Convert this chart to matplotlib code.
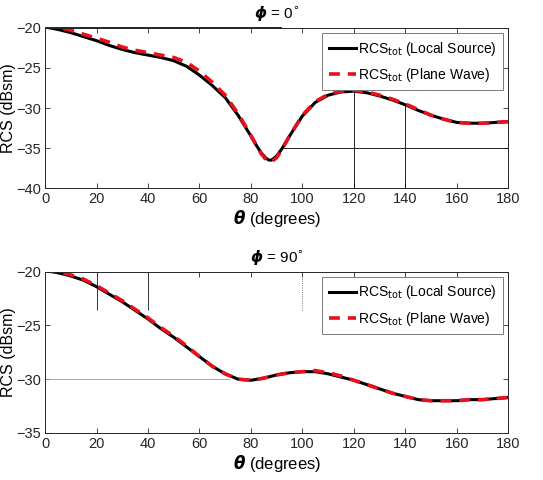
import numpy as np
import matplotlib
matplotlib.use('Agg')
import matplotlib.pyplot as plt

plt.rcParams['font.family'] = 'Liberation Sans'
plt.rcParams['mathtext.fontset'] = 'dejavusans'

# phi = 0 cut
theta0 = [0, 5, 10, 15, 20, 25, 30, 35, 40, 45, 50, 55, 60, 65, 70, 75, 80, 82, 84, 86,
          87, 88, 90, 92, 95, 100, 105, 110, 115, 120, 125, 130, 135, 140, 145, 150,
          155, 160, 165, 170, 175, 180]
local0 = [-19.9, -20.2, -20.6, -21.1, -21.6, -22.2, -22.7, -23.1, -23.4, -23.7, -24.1,
          -24.8, -25.9, -27.2, -28.7, -30.9, -33.5, -34.6, -35.6, -36.3, -36.5, -36.5,
          -36.0, -35.1, -33.5, -31.0, -29.3, -28.4, -28.0, -27.9, -28.1, -28.5, -29.0,
          -29.6, -30.3, -30.9, -31.4, -31.8, -31.9, -31.9, -31.8, -31.7]
plane0 = [-19.7, -19.9, -20.3, -20.8, -21.3, -21.8, -22.4, -22.8, -23.1, -23.4, -23.7,
          -24.3, -25.4, -26.8, -28.4, -30.7, -33.4, -34.6, -35.7, -36.5, -36.7, -36.7,
          -36.2, -35.2, -33.5, -30.9, -29.2, -28.3, -27.9, -27.8, -28.0, -28.4, -28.9,
          -29.5, -30.2, -30.9, -31.4, -31.8, -31.9, -31.9, -31.8, -31.7]

# phi = 90 cut
theta90 = [0, 5, 10, 15, 20, 25, 30, 35, 40, 45, 50, 55, 60, 65, 70, 75, 80, 85, 90,
           95, 100, 105, 110, 115, 120, 125, 130, 135, 140, 145, 150, 155, 160, 165,
           170, 175, 180]
local90 = [-19.9, -20.1, -20.4, -20.8, -21.4, -22.1, -22.8, -23.6, -24.4, -25.3, -26.1,
           -27.0, -27.9, -28.8, -29.5, -30.0, -30.1, -29.9, -29.6, -29.4, -29.3, -29.3,
           -29.5, -29.8, -30.1, -30.5, -30.9, -31.3, -31.6, -31.9, -32.0, -32.0, -32.0,
           -31.9, -31.9, -31.8, -31.7]
plane90 = [-19.8, -20.0, -20.3, -20.7, -21.3, -22.0, -22.7, -23.5, -24.3, -25.2, -26.0,
           -26.9, -27.9, -28.8, -29.5, -30.0, -30.1, -29.9, -29.6, -29.4, -29.3, -29.2,
           -29.4, -29.7, -30.1, -30.5, -30.9, -31.3, -31.6, -31.9, -32.0, -32.0, -32.0,
           -31.9, -31.9, -31.8, -31.7]

# stray guide lines visible in the original figure
top_vlines = [120, 140]
top_vline_tops = [-27.9, -29.6]
top_hline = -35.0
bot_vlines = [20, 40]
bot_dotted = 100
bot_hline = -30.0

fig = plt.figure(figsize=(5.43, 4.80), dpi=100)
ax1 = fig.add_axes([0.083, 0.608, 0.853, 0.334])
ax2 = fig.add_axes([0.083, 0.098, 0.853, 0.336])

lab_local = r'RCS$_{\rm tot}$ (Local Source)'
lab_plane = r'RCS$_{\rm tot}$ (Plane Wave)'


def style(ax, ylim, yticks, title):
    ax.set_xlim(0, 180)
    ax.set_ylim(*ylim)
    ax.set_xticks(np.arange(0, 181, 20))
    ax.set_yticks(yticks)
    ax.tick_params(direction='in', top=True, right=True, labelsize=10.5,
                   length=3.5, width=0.6, colors='#262626', pad=3)
    for s in ax.spines.values():
        s.set_linewidth(0.7)
        s.set_color('#262626')
    ax.set_xlabel(r'$\boldsymbol{\theta}$ (degrees)', fontsize=12, labelpad=1)
    ax.set_ylabel('RCS (dBsm)', fontsize=11.5, labelpad=0)
    ax.set_title(r'$\boldsymbol{\phi}$ = ' + title + r'$^{\circ}$', fontsize=11, pad=7)
    leg = ax.legend(loc='upper right', fontsize=10, handlelength=2.0,
                    handletextpad=0.1, borderpad=0.45, labelspacing=0.6,
                    borderaxespad=0.4, fancybox=False, framealpha=1,
                    edgecolor='#666666')
    leg.get_frame().set_linewidth(0.6)


# top panel
ax1.vlines(top_vlines, -40, top_vline_tops, color='black', linewidth=0.6)
ax1.hlines(top_hline, 92, 180, color='black', linewidth=0.6)
ax1.hlines(-20, 0, 92, color='black', linewidth=1.2, clip_on=False)
ax1.plot(theta0, local0, color='black', linewidth=2.2, label=lab_local)
ax1.plot(theta0, plane0, color='#e8101e', linewidth=2.6, linestyle=(0, (3, 2.2)),
         label=lab_plane)
style(ax1, (-40, -20), [-40, -35, -30, -25, -20], '0')

# bottom panel
ax2.vlines(bot_vlines, -23.6, -20, color='#333333', linewidth=0.7)
ax2.vlines(bot_dotted, -23.6, -20, color='#555555', linewidth=0.6, linestyle=':')
ax2.hlines(bot_hline, 0, 72, color='#999999', linewidth=0.6)
ax2.plot(theta90, local90, color='black', linewidth=2.2, label=lab_local)
ax2.plot(theta90, plane90, color='#e8101e', linewidth=2.6, linestyle=(0, (3, 2.2)),
         label=lab_plane)
style(ax2, (-35, -20), [-35, -30, -25, -20], '90')

fig.savefig('out.png', dpi=100)
